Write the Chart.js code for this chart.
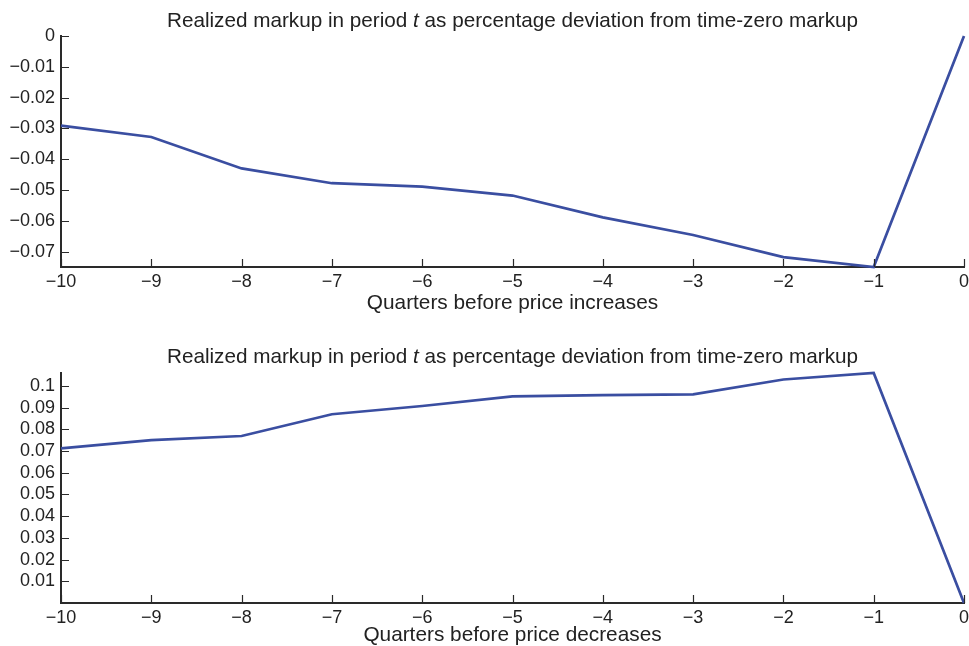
<!DOCTYPE html>
<html>
<head>
<meta charset="utf-8">
<script src="https://cdn.jsdelivr.net/npm/chart.js@4.4.1/dist/chart.umd.min.js"></script>
<style>
  html, body { margin: 0; padding: 0; background: #ffffff; }
  #wrap { position: relative; width: 969px; height: 646px; }
  canvas { position: absolute; left: 0; }
  #top { top: 0; }
  #bottom { top: 323px; }
</style>
</head>
<body>
<div id="wrap">
  <canvas id="top" width="969" height="323"></canvas>
  <canvas id="bottom" width="969" height="323"></canvas>
</div>
<script>
// Quarters relative to the price change (0 = quarter of the change)
const quarters = [-10, -9, -8, -7, -6, -5, -4, -3, -2, -1, 0];

// Realized markup relative to the time-zero markup
const markupBeforeIncreases = [-0.0291, -0.0328, -0.0430, -0.0478, -0.0489, -0.0518, -0.0589, -0.0646, -0.0718, -0.0750, 0];
const markupBeforeDecreases = [0.0712, 0.0750, 0.0769, 0.0869, 0.0907, 0.0951, 0.0957, 0.0961, 0.1029, 0.1059, 0];

// Tick positions
const xTicks = [-10, -9, -8, -7, -6, -5, -4, -3, -2, -1, 0];
const yTicksIncreases = [0, -0.01, -0.02, -0.03, -0.04, -0.05, -0.06, -0.07];
const yTicksDecreases = [0.01, 0.02, 0.03, 0.04, 0.05, 0.06, 0.07, 0.08, 0.09, 0.1];

const titleParts = ['Realized markup in period ', 't', ' as percentage deviation from time-zero markup'];

const FONT = '"Liberation Sans", Arial, Helvetica, sans-serif';
const AXIS_COLOR = '#2a2a2a';
const LINE_COLOR = '#3a4ea1';
const TITLE_SIZE = 20.7;
const TICK_SIZE = 18;
const AXIS_TITLE_SIZE = 20.8;

function fmt(v) {
  const s = String(+(+v).toFixed(4));
  return s.replace('-', '\u2212');
}

// Title with an italic "t", centred over the plot area
const mixedTitle = {
  id: 'mixedTitle',
  afterDraw(chart, args, opts) {
    const ctx = chart.ctx;
    const area = chart.chartArea;
    const normal = `${TITLE_SIZE}px ${FONT}`;
    const italic = `italic ${TITLE_SIZE}px ${FONT}`;
    ctx.save();
    ctx.fillStyle = '#222';
    ctx.textBaseline = 'alphabetic';
    ctx.textAlign = 'left';
    const fonts = [normal, italic, normal];
    const widths = titleParts.map((p, i) => { ctx.font = fonts[i]; return ctx.measureText(p).width; });
    const total = widths.reduce((a, b) => a + b, 0);
    let x = (area.left + area.right) / 2 - total / 2;
    titleParts.forEach((p, i) => {
      ctx.font = fonts[i];
      ctx.fillText(p, x, opts.baseline);
      x += widths[i];
    });
    ctx.restore();
  }
};

// Tick marks pointing into the plot area
const innerTicks = {
  id: 'innerTicks',
  afterDraw(chart) {
    const ctx = chart.ctx;
    const xs = chart.scales.x, ys = chart.scales.y;
    const len = 8;
    ctx.save();
    ctx.strokeStyle = AXIS_COLOR;
    ctx.lineWidth = 1.2;
    ctx.beginPath();
    xs.ticks.forEach(t => {
      const px = Math.round(xs.getPixelForValue(t.value)) + 0.5;
      ctx.moveTo(px, ys.bottom);
      ctx.lineTo(px, ys.bottom - len);
    });
    ys.ticks.forEach(t => {
      const py = Math.round(ys.getPixelForValue(t.value)) + 0.5;
      ctx.moveTo(xs.left, py);
      ctx.lineTo(xs.left + len, py);
    });
    ctx.stroke();
    ctx.restore();
  }
};

function makeChart(id, values, yTicks, yMin, yMax, xTitle, padTop, xAxisHeight, titleBaseline, tickPad, titlePad) {
  return new Chart(document.getElementById(id), {
    type: 'line',
    data: {
      datasets: [{
        data: quarters.map((q, i) => ({ x: q, y: values[i] })),
        borderColor: LINE_COLOR,
        borderWidth: 2.7,
        pointRadius: 0,
        tension: 0,
        fill: false,
        clip: false
      }]
    },
    options: {
      responsive: false,
      animation: false,
      devicePixelRatio: 1,
      layout: { padding: { left: 0, right: 0, top: padTop, bottom: 0 } },
      plugins: {
        legend: { display: false },
        tooltip: { enabled: false },
        mixedTitle: { baseline: titleBaseline }
      },
      scales: {
        x: {
          type: 'linear',
          min: -10,
          max: 0,
          afterBuildTicks: s => { s.ticks = xTicks.map(v => ({ value: v })); },
          afterFit: s => { s.height = xAxisHeight; s.paddingLeft = 0; s.paddingRight = 5; },
          grid: { display: true, drawOnChartArea: false, drawTicks: false },
          border: { display: true, color: AXIS_COLOR, width: 2 },
          ticks: {
            padding: tickPad,
            maxRotation: 0,
            autoSkip: false,
            color: '#222',
            font: { family: FONT, size: TICK_SIZE },
            callback: v => fmt(v)
          },
          title: {
            display: true,
            text: xTitle,
            color: '#222',
            font: { family: FONT, size: AXIS_TITLE_SIZE, lineHeight: 1 },
            padding: { top: 0, bottom: titlePad }
          }
        },
        y: {
          type: 'linear',
          min: yMin,
          max: yMax,
          afterBuildTicks: s => { s.ticks = yTicks.map(v => ({ value: v })); },
          afterFit: s => { s.width = 61; s.paddingTop = 0; s.paddingBottom = 0; },
          grid: { display: true, drawOnChartArea: false, drawTicks: false },
          border: { display: true, color: AXIS_COLOR, width: 2 },
          ticks: {
            padding: 6,
            autoSkip: false,
            color: '#222',
            font: { family: FONT, size: TICK_SIZE },
            callback: v => fmt(v)
          }
        }
      }
    },
    plugins: [mixedTitle, innerTicks]
  });
}

makeChart('top', markupBeforeIncreases, yTicksIncreases,
  Math.min(...markupBeforeIncreases), 0,
  'Quarters before price increases', 36, 56, 26.5, 4, 9);

makeChart('bottom', markupBeforeDecreases, yTicksDecreases,
  0, Math.max(...markupBeforeDecreases),
  'Quarters before price decreases', 50, 43, 40, 4, 0);
</script>
</body>
</html>
